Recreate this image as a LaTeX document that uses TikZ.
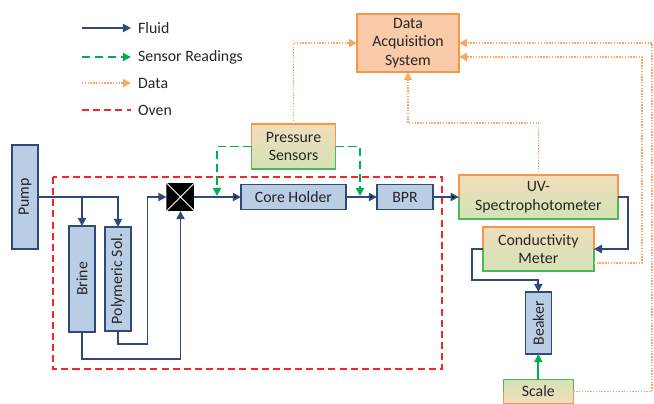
\documentclass[tikz,border=0pt]{standalone}
\usepackage{fontspec}
\setmainfont{Carlito}
\usepackage{graphicx}
\usepackage{tikz}
\usetikzlibrary{positioning,arrows.meta}

\definecolor{fluidblue}{HTML}{2F4A78}
\definecolor{boxblue}{HTML}{B9CDE5}
\definecolor{sensgreen}{HTML}{00B050}
\definecolor{linegreen}{HTML}{4DB85A}
\definecolor{dataorange}{HTML}{F79646}
\definecolor{dasfill}{HTML}{F9CBA8}
\definecolor{mixtop}{HTML}{F1DDBC}
\definecolor{mixbot}{HTML}{D3E3B5}
\definecolor{ovenred}{HTML}{F0282D}
\definecolor{textgray}{HTML}{262626}

\newcommand{\orangetop}[1]{\draw[dataorange,line width=1.2pt] (#1.west) |- (#1.north) -| (#1.east);}
\newcommand{\orangebottom}[1]{\draw[dataorange,line width=1.2pt] (#1.west) |- (#1.south) -| (#1.east);}

\begin{document}
\begin{tikzpicture}[x=0.03cm,y=-0.03cm,node distance=2cm,on grid,
    font=\fontsize{13.5}{16}\selectfont,text=textgray]
      \tikzset{unit/.style={draw=fluidblue,fill=boxblue,line width=1.2pt,rectangle,inner sep=2pt,outer sep=0pt}}
      \tikzset{column/.style={unit,minimum width=0.78cm}}
      \tikzset{mixed/.style={draw=linegreen,line width=1.2pt,top color=mixtop,bottom color=mixbot,align=center,inner sep=2pt,outer sep=0pt}}
      \tikzset{mixedup/.style={mixed,top color=mixbot,bottom color=mixtop}}
      \tikzset{daq/.style={draw=dataorange,fill=dasfill,line width=1.2pt,align=center,outer sep=0pt,minimum width=3.06cm,minimum height=1.74cm}}
      \tikzset{fluid/.style={draw=fluidblue,line width=1.5pt,-{Triangle[length=7pt,width=7pt]}}}
      \tikzset{sensor/.style={draw=sensgreen,line width=1.5pt,dash pattern=on 7pt off 4pt,-{Triangle[length=7pt,width=7pt]}}}
      \tikzset{data/.style={draw=dataorange!85,line width=1.2pt,dash pattern=on 1.2pt off 1.2pt,-{Triangle[length=7pt,width=7pt]}}}
      \tikzset{oven/.style={draw=ovenred,line width=1.5pt,dash pattern=on 6pt off 3.5pt}}
      \tikzset{valve/.style={minimum size=0.84cm,inner sep=0pt,outer sep=0pt,
        path picture={
          \fill[black] (path picture bounding box.north west) rectangle (path picture bounding box.south east);
          \draw[white,line width=0.8pt] (path picture bounding box.north west) -- (path picture bounding box.south east)
            (path picture bounding box.north east) -- (path picture bounding box.south west);}}}
      \tikzset{key/.style={anchor=west,inner xsep=0.21cm,inner ysep=0pt}}

      \useasboundingbox (0,0) rectangle (654,404);

      % legend
      \node[key] (kfluid) at (131,28) {Fluid};
      \node[key] (ksensor) at (131,57) {Sensor Readings};
      \node[key] (kdata) at (131,83) {Data};
      \node[key] (koven) at (131,110) {Oven};
      \coordinate (k1) at (82,28);
      \coordinate (k2) at (82,57);
      \coordinate (k3) at (82,83);
      \coordinate (k4) at (82,110);
      \draw[fluid] (k1) -- (kfluid.west);
      \draw[sensor] (k2) -- (ksensor.west);
      \draw[data] (k3) -- (kdata.west);
      \draw[oven] (k4) -- (koven.west);

      % oven
      \draw[oven] (53,177) rectangle (442,369);

      % main line
      \node[unit,minimum width=3.15cm,minimum height=0.75cm] (core) at (293.5,197) {Core Holder};
      \node[mixed,minimum width=2.52cm,minimum height=1.35cm] (press) [above=1.515cm of core] {Pressure\\Sensors};
      \node[valve] (valve) [left=3.39cm of core] {};
      \node[unit,minimum width=1.68cm,minimum height=0.75cm] (bpr) [right=3.345cm of core] {BPR};
      \node[mixed,minimum width=4.77cm,minimum height=1.32cm] (uv) [right=4cm of bpr] {UV-\\Spectrophotometer};
      \node[mixed,minimum width=3.33cm,minimum height=1.32cm] (cond) [below=1.56cm of uv] {Conductivity\\Meter};
      \node[column,minimum height=1.86cm] (beaker) [below=2.22cm of cond] {\rotatebox{90}{Beaker}};
      \node[mixedup,minimum width=2.1cm,minimum height=0.72cm] (scale) [below=2.055cm of beaker] {Scale};
      \node[daq] (das) at (408,43) {Data\\Acquisition\\System};

      % feed side
      \node[column,minimum height=3.12cm] (pump) at (25,197) {\rotatebox{90}{Pump}};
      \node[column,minimum height=3.18cm] (brine) at (82,279) {\rotatebox{90}{Brine}};
      \node[column,minimum height=3.12cm] (poly) [right=1.08cm of brine] {\rotatebox{90}{Polymeric Sol.}};

      \orangetop{press}
      \orangetop{uv}
      \orangetop{cond}
      \orangebottom{scale}

      % fluid
      \path[fluid]
      (valve) edge (core)
      (core) edge (bpr)
      (bpr) edge (uv);
      \draw[fluid] (pump.east) -| (brine.north);
      \draw[fluid] (pump.east) -| (poly.north);
      \draw[fluid] (poly.south) -- ++(0,13) -| ([xshift=-0.57cm]valve.west) -- (valve.west);
      \draw[fluid] (brine.south) -- ++(0,27) -| (valve.south);
      \draw[fluid] (uv.east) -- ++(10,0) |- (cond.east);
      \draw[fluid] (cond.west) -- ++(-11,0) -- ++(0,31) -| (beaker.north);

      % sensor readings
      \coordinate (tap1) at (217,196);
      \coordinate (tap2) at (360,196);
      \draw[sensor] (press.west) -| (tap1);
      \draw[sensor] (press.east) -| (tap2);
      \draw[sensor,solid] (scale) -- (beaker);

      % data
      \coordinate (outer) at (652,43);
      \coordinate (inner) at (642,57);
      \draw[data] (press.north) |- (das.west);
      \draw[data] (uv.north) -- ++(0,-52) -| (das.south);
      \draw[data] (scale.east) -| (outer) -- (das.east);
      \draw[data] ([yshift=0.24cm]cond.south east) -| (inner) -- (inner -| das.east);
\end{tikzpicture}
\end{document}
